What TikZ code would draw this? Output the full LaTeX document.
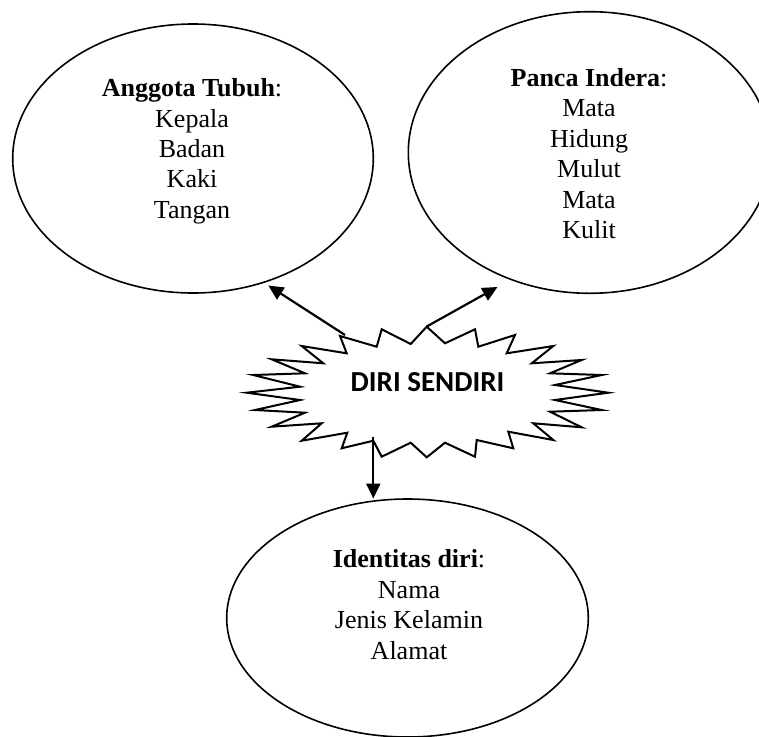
\documentclass[tikz,border=0pt]{standalone}
\usepackage{fontspec}
\setmainfont{Liberation Serif}
\newfontfamily\calib{Carlito}
\usetikzlibrary{arrows.meta,shapes.geometric}
\begin{document}
\begin{tikzpicture}[x=1pt,y=-1pt,
  ell/.style={draw=black,line width=1.6pt,ellipse,inner sep=0pt,outer sep=0pt},
  txt/.style={align=center,anchor=base,inner sep=0pt,font=\fontsize{26}{30.4}\selectfont},
  conn/.style={line width=2.2pt,-{Triangle[length=15pt,width=14pt]}},
  starline/.style={draw=black,line width=2pt,line join=miter}]
\useasboundingbox (0,0) rectangle (759,736);
\clip (0,0) rectangle (759,736);
% ellipses
\node[ell,minimum width=360.6pt,minimum height=269pt] (tubuh) at (193,158.5) {};
\node[ell,minimum width=362.8pt,minimum height=281.6pt] (indera) at (589.7,152.5) {};
\node[ell,minimum width=361.6pt,minimum height=238pt] (identitas) at (407.5,618) {};
% texts (anchor at baseline of last line)
\node[txt] (ttubuh) at (192,218.3) {\textbf{Anggota Tubuh}:\\Kepala\\Badan\\Kaki\\Tangan};
\node[txt] (tindera) at (589,238.5) {\textbf{Panca Indera}:\\Mata\\Hidung\\Mulut\\Mata\\Kulit};
\node[txt] (tident) at (409,659) {\textbf{Identitas diri}:\\Nama\\Jenis Kelamin\\Alamat};
% star
\draw[starline] (426.7,326.7) -- (445,343.3) -- (475,329.3) -- (478.3,346.7) -- (515,335)
 -- (506.7,353.3) -- (553.3,346) -- (531.7,363.3) -- (581.7,360) -- (550,373.3)
 -- (601.7,375) -- (555,385) -- (608.3,392.7) -- (555,400) -- (601.7,410)
 -- (550,411.7) -- (581.7,427.3) -- (533.3,423.3) -- (553.3,440) -- (508.3,431.7)
 -- (513.3,448.3) -- (476.7,440) -- (475,456.7) -- (445,442.7) -- (426.7,457.3)
 -- (410.7,442.7) -- (381.7,456.7) -- (373.3,440.7) -- (341.7,448.3) -- (347.3,432.7)
 -- (301.7,440.7) -- (321.7,423.3) -- (271.7,426.7) -- (305,412.7) -- (255,410)
 -- (300,400) -- (246.7,392.7) -- (300,386.7) -- (253.3,375) -- (305,373.3)
 -- (271.7,359.3) -- (323.3,363.3) -- (301.7,346) -- (346.7,353.3) -- (340,336)
 -- (376.7,346.7) -- (381.7,329.3) -- (410.7,344) -- cycle;
\node[anchor=base,inner sep=0pt,font=\calib\bfseries\fontsize{29}{31}\selectfont] (diri) at (427.5,391.7) {DIRI SENDIRI};
% connectors
\coordinate (sL) at (345,335);
\coordinate (eL) at (268.3,285.5);
\coordinate (sR) at (426.7,326.5);
\coordinate (eR) at (497.5,287);
\coordinate (sD) at (373.3,437);
\coordinate (eD) at (373.3,498.5);
\draw[conn] (sL) -- (eL);
\draw[conn] (sR) -- (eR);
\draw[conn] (sD) -- (eD);
\end{tikzpicture}
\end{document}
